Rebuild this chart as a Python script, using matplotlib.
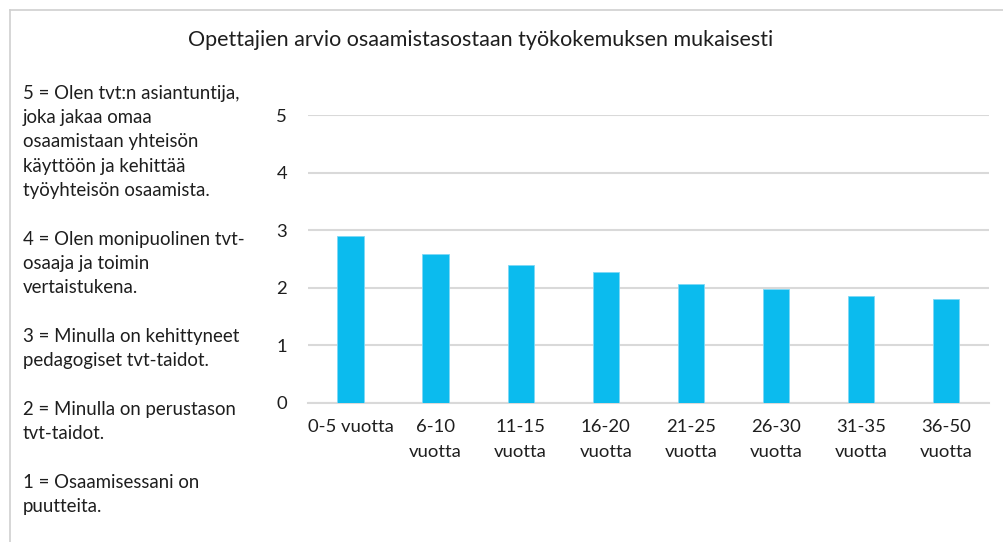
import matplotlib.pyplot as plt
from matplotlib.lines import Line2D

# Data
categories = ["0-5 vuotta", "6-10\nvuotta", "11-15\nvuotta", "16-20\nvuotta",
              "21-25\nvuotta", "26-30\nvuotta", "31-35\nvuotta", "36-50\nvuotta"]
values = [2.89, 2.58, 2.39, 2.28, 2.06, 1.98, 1.86, 1.80]
title = "Opettajien arvio osaamistasostaan työkokemuksen mukaisesti"
legend_lines = [
    "5 = Olen tvt:n asiantuntija,",
    "joka jakaa omaa",
    "osaamistaan yhteisön",
    "käyttöön ja kehittää",
    "työyhteisön osaamista.",
    "",
    "4 = Olen monipuolinen tvt-",
    "osaaja ja toimin",
    "vertaistukena.",
    "",
    "3 = Minulla on kehittyneet",
    "pedagogiset tvt-taidot.",
    "",
    "2 = Minulla on perustason",
    "tvt-taidot.",
    "",
    "1 = Osaamisessani on",
    "puutteita.",
]

plt.rcParams["font.family"] = ["Lato", "DejaVu Sans"]
text_color = "#1E1E1E"
bar_color = "#0BBBEE"
grid_color = "#D9D9D9"

W, H = 1004, 542
fig = plt.figure(figsize=(W / 100, H / 100), dpi=100)

# chart frame (only top and left edge are visible in the crop)
fig.add_artist(Line2D([10.5 / W, 1], [1 - 9.5 / H, 1 - 9.5 / H], color="#D0D0D0", lw=1.2))
fig.add_artist(Line2D([10.5 / W, 10.5 / W], [0, 1 - 9.5 / H], color="#D0D0D0", lw=1.2))

ax = fig.add_axes([308 / W, 1 - 402.7 / H, 680.7 / W, 287.7 / H])
x = range(len(values))
ax.bar(x, values, width=0.31, color=bar_color, edgecolor="#7FD8F5", linewidth=0.6, zorder=3)
ax.set_xlim(-0.5, len(values) - 0.5)
ax.set_ylim(0, 5)
ax.set_yticks(range(0, 6))
ax.grid(axis="y", color=grid_color, linewidth=1.5, zorder=0)
ax.set_axisbelow(True)
for s in ["top", "right", "left"]:
    ax.spines[s].set_visible(False)
ax.spines["bottom"].set_color(grid_color)
ax.spines["bottom"].set_linewidth(1.5)
ax.tick_params(axis="both", length=0, labelsize=13.3, colors=text_color)
ax.tick_params(axis="y", pad=15)
ax.tick_params(axis="x", pad=11.5)
ax.set_xticks(list(x))
ax.set_xticklabels(categories, linespacing=1.72)

fig.text(481 / W, 1 - 40 / H, title, ha="center", va="center",
         fontsize=15.5, color=text_color)

for i, line in enumerate(legend_lines):
    if line:
        fig.text(23 / W, 1 - (93 + i * 24.35) / H, line, ha="left", va="center",
                 fontsize=13.4, color=text_color)

fig.savefig("out.png", dpi=100)
